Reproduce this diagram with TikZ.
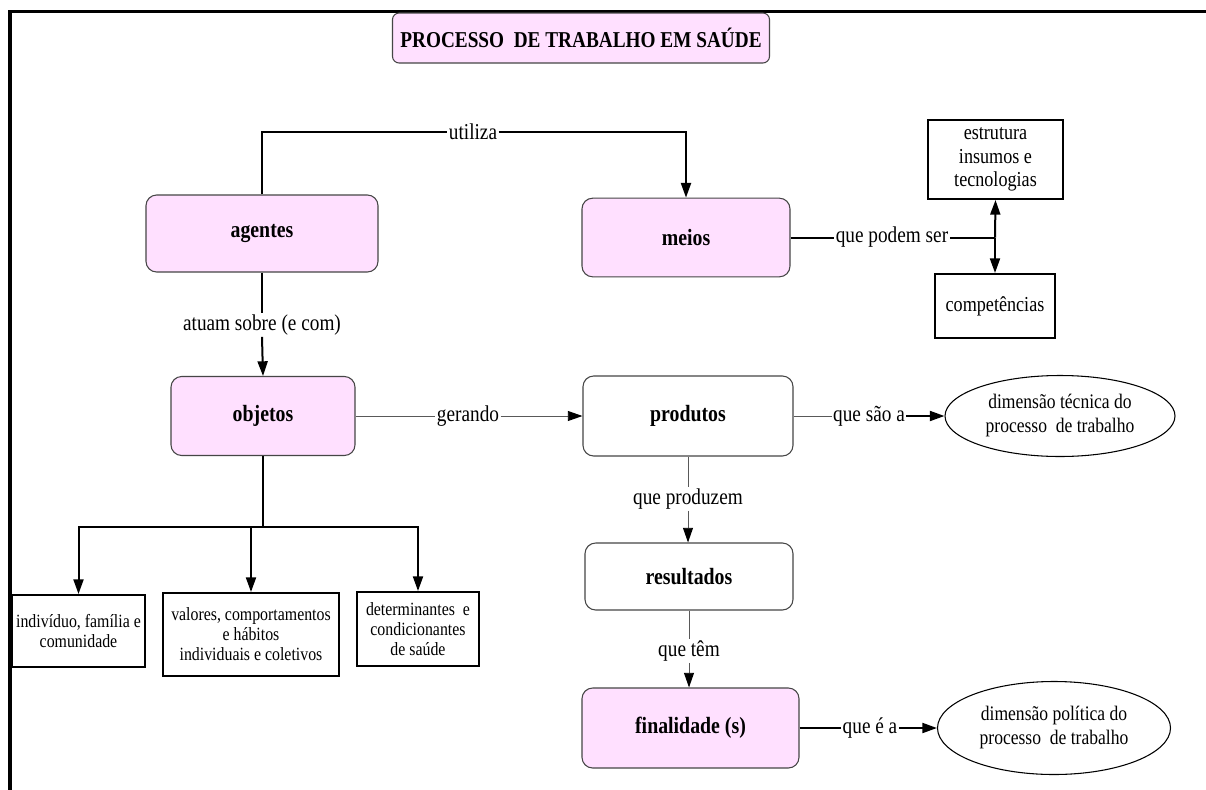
\documentclass[tikz,border=0pt]{standalone}
\usepackage{fontspec}
\setmainfont{Liberation Serif}[FakeStretch=0.85]
\usetikzlibrary{arrows.meta,shapes.geometric}
\definecolor{pinkbox}{RGB}{255,224,255}
\definecolor{boxedge}{RGB}{70,70,70}
\newcommand\fsz[2]{\fontsize{#1}{#2}\selectfont}
\tikzset{
  pinknode/.style={draw=boxedge,line width=0.8pt,fill=pinkbox,rounded corners=8pt,inner sep=0pt,font=\fsz{17.5}{20}\bfseries},
  whitenode/.style={draw=boxedge,line width=0.8pt,fill=white,rounded corners=8pt,inner sep=0pt,font=\fsz{17.5}{20}\bfseries},
  sqnode/.style={draw=black,line width=1.5pt,fill=white,inner sep=0pt,align=center,font=\fsz{14}{15}},
  sqnodeb/.style={draw=black,line width=1.5pt,fill=white,inner sep=0pt,align=center,font=\fsz{16}{17.5}},
  ellnode/.style={draw=black,line width=0.8pt,ellipse,inner sep=0pt,align=center,font=\fsz{15.5}{18}},
  lbl/.style={fill=white,inner sep=1pt,font=\fsz{17}{20}},
  thk/.style={line width=1.5pt,black},
  thn/.style={line width=0.7pt,black!65},
  arr/.style={-{Triangle[length=11pt,width=7.5pt,color=black]}},
}
\begin{document}
\begin{tikzpicture}[x=0.75pt,y=-0.75pt]
\useasboundingbox (0,0) rectangle (1206,789);
\fill[white] (0,0) rectangle (1206,789);
% frame
\draw[line width=2.5pt] (10,795) -- (10,11.5) -- (1212,11.5);
% title
\node[pinknode,rounded corners=5pt,minimum width=282.75pt,minimum height=37.5pt,font=\fsz{17}{20}\bfseries] (title) at (581,38) {PROCESSO \ DE TRABALHO EM SAÚDE};
% main nodes
\node[pinknode,minimum width=174pt,minimum height=57.75pt] (agentes) at (262,233.5) {agentes};
\node[pinknode,minimum width=156pt,minimum height=59pt] (meios) at (686,237.5) {meios};
\node[pinknode,minimum width=138pt,minimum height=59.25pt] (objetos) at (263,416) {objetos};
\node[whitenode,minimum width=157.5pt,minimum height=60pt] (produtos) at (688,416) {produtos};
\node[whitenode,minimum width=156pt,minimum height=50.25pt] (resultados) at (689,576.5) {resultados};
\node[pinknode,minimum width=162.75pt,minimum height=60pt] (finalidade) at (690.5,728) {finalidade (s)};
\node[sqnodeb,minimum width=101.25pt,minimum height=59.25pt] (estrutura) at (995.5,159.5) {estrutura\\insumos e\\tecnologias};
\node[sqnodeb,minimum width=90pt,minimum height=48pt] (competencias) at (995,306) {competências};
\node[ellnode,minimum width=172.5pt,minimum height=60.75pt] (tecnica) at (1060,416) {dimensão técnica do\\processo \ de trabalho};
\node[ellnode,minimum width=174.75pt,minimum height=69.75pt] (politica) at (1054,728) {dimensão política do\\processo \ de trabalho};
\node[sqnode,minimum width=99.75pt,minimum height=54pt] (individuo) at (78.5,631) {indivíduo, família e\\comunidade};
\node[sqnode,minimum width=132pt,minimum height=62.25pt] (valores) at (251,634.5) {valores, comportamentos\\e hábitos\\individuais e coletivos};
\node[sqnode,minimum width=91.5pt,minimum height=55.5pt] (determinantes) at (418,629) {determinantes \ e\\condicionantes\\de saúde};
% labels
\node[lbl] (utiliza) at (473,132) {utiliza};
\node[lbl] (atuam) at (262,325) {atuam sobre (e com)};
\node[lbl] (gerando) at (468,416) {gerando};
\node[lbl] (podem) at (892,237.5) {que podem ser};
\node[lbl] (saoa) at (869,416) {que são a};
\node[lbl] (produzem) at (688,499) {que produzem};
\node[lbl] (tem) at (689,651) {que têm};
\node[lbl] (ea) at (870,728) {que é a};
\coordinate (jn) at (995,237.5);
\coordinate (br) at (263,527);
% connectors
\draw[thk] (agentes.north) |- (utiliza.west);
\draw[thk,arr] (utiliza.east) -| (meios.north);
\draw[thk] (agentes.south) -- (atuam.north);
\draw[thk,arr] (atuam.south) -- (objetos.north);
\draw[thn] (objetos.east) -- (gerando.west);
\draw[thn,arr] (gerando.east) -- (produtos.west);
\draw[thk] (meios.east) -- (podem.west);
\draw[thk] (podem.east) -- (jn);
\draw[thk,arr] (jn) -- (estrutura.south);
\draw[thk,arr] (jn) -- (competencias.north);
\draw[thn] (produtos.east) -- (saoa.west);
\draw[thk,arr] (saoa.east) -- (tecnica.west);
\draw[thn] (produtos.south) -- (produzem.north);
\draw[thn,arr] (produzem.south) -- (produzem.south |- resultados.north);
\draw[thn] (resultados.south) -- (tem.north);
\draw[thn,arr] (tem.south) -- (tem.south |- finalidade.north);
\draw[thk] (finalidade.east) -- (ea.west);
\draw[thk,arr] (ea.east) -- (politica.west);
\draw[thk] (objetos.south) -- (br);
\draw[thk,arr] (br) -| (individuo.north);
\draw[thk,arr] (br) -| (determinantes.north);
\draw[thk,arr] (valores.north |- br) -- (valores.north);
\end{tikzpicture}
\end{document}
